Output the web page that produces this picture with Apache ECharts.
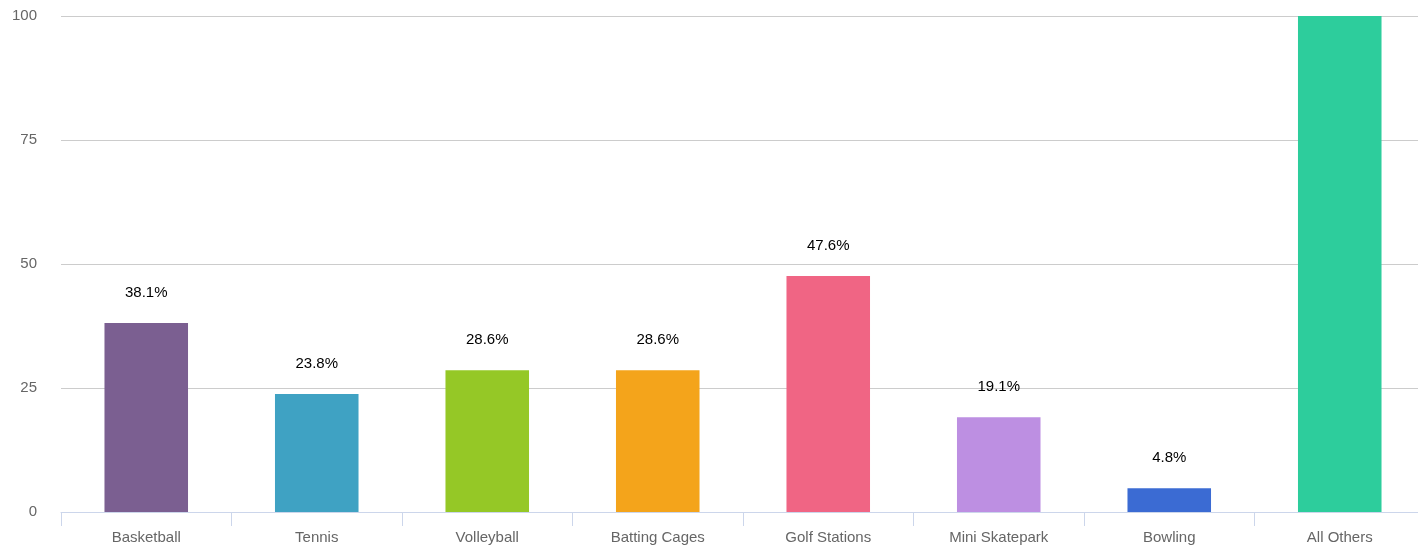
<!DOCTYPE html>
<html>
<head>
<meta charset="utf-8">
<style>
  html, body { margin: 0; padding: 0; background: #fff; overflow: hidden; width: 1418px; height: 546px; }
  #chart { width: 1425px; height: 546px; }
</style>
<script src="https://cdn.jsdelivr.net/npm/echarts@6/dist/echarts.min.js"></script>
</head>
<body>
<div id="chart"></div>
<script>
var categories = ['Basketball', 'Tennis', 'Volleyball', 'Batting Cages', 'Golf Stations', 'Mini Skatepark', 'Bowling', 'All Others'];
var values = [38.1, 23.8, 28.6, 28.6, 47.6, 19.1, 4.8, 100];
var barColors = ['#7b5f91', '#3fa2c3', '#95c826', '#f4a41b', '#f06584', '#bd8fe2', '#3b6bd3', '#2dcd9c'];
var yTicks = [0, 25, 50, 75, 100];

var myChart = echarts.init(document.getElementById('chart'));

var data = values.map(function(v, i) {
  return { value: v, itemStyle: { color: barColors[i] } };
});

var option = {
  animation: false,
  textStyle: { fontFamily: 'Liberation Sans, Arial, sans-serif' },
  grid: { left: 61, right: 0, top: 16, bottom: 34, containLabel: false },
  xAxis: {
    type: 'category',
    data: categories,
    axisLine: { lineStyle: { color: '#ccd6eb' } },
    axisTick: { show: true, length: 14, lineStyle: { color: '#ccd6eb' } },
    axisLabel: { color: '#666', fontSize: 15, margin: 18 }
  },
  yAxis: {
    type: 'value',
    min: yTicks[0],
    max: yTicks[yTicks.length - 1],
    interval: 25,
    axisLine: { show: false },
    axisTick: { show: false },
    axisLabel: { color: '#666', fontSize: 15, margin: 24 },
    splitLine: { lineStyle: { color: '#cccccc' } }
  },
  series: [{
    type: 'bar',
    data: data,
    barWidth: '49%',
    label: {
      show: true,
      position: 'top',
      distance: 23,
      color: '#000',
      fontSize: 15,
      formatter: function(p) { return p.value + '%'; }
    }
  }]
};

myChart.setOption(option);
</script>
</body>
</html>
